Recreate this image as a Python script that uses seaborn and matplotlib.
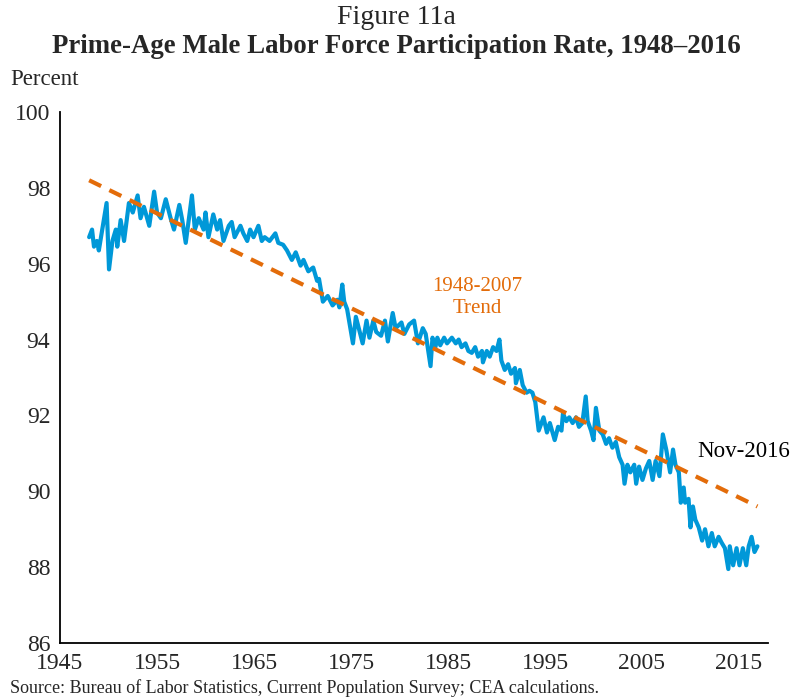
import matplotlib
matplotlib.use("Agg")
import matplotlib.pyplot as plt
import seaborn as sns
import pandas as pd

# prime-age male LFPR (decimal year, percent)
years = [1948.0, 1948.3, 1948.5, 1948.8, 1949.0, 1949.8, 1950.05, 1950.4, 1950.75, 1950.9,
         1951.25, 1951.6, 1952.1, 1952.5, 1953.0, 1953.3, 1953.65, 1954.2, 1954.7, 1955.0,
         1955.4, 1955.9, 1956.4, 1956.75, 1957.3, 1957.6, 1957.96, 1958.6, 1958.9, 1959.3,
         1959.8, 1960.0, 1960.3, 1960.8, 1961.2, 1961.5, 1961.85, 1962.4, 1962.7, 1963.0,
         1963.6, 1963.9, 1964.3, 1964.6, 1964.95, 1965.45, 1965.8, 1966.1, 1966.6, 1967.2,
         1967.5, 1968.0, 1968.4, 1968.9, 1969.3, 1969.8, 1970.1, 1970.6, 1971.1, 1971.5,
         1971.7, 1972.1, 1972.6, 1973.1, 1973.6, 1973.8, 1974.1, 1974.3, 1974.6, 1974.8,
         1975.2, 1975.5, 1975.9, 1976.2, 1976.6, 1976.9, 1977.3, 1977.6, 1978.1, 1978.5,
         1978.8, 1979.3, 1979.6, 1980.2, 1980.5, 1981.0, 1981.5, 1981.9, 1982.4, 1982.7,
         1983.2, 1983.4, 1983.7, 1983.9, 1984.2, 1984.6, 1984.9, 1985.4, 1985.8, 1986.1,
         1986.4, 1986.8, 1987.1, 1987.45, 1987.8, 1988.1, 1988.5, 1988.6, 1989.0, 1989.3,
         1989.65, 1990.0, 1990.3, 1990.5, 1990.85, 1991.2, 1991.5, 1991.9, 1992.0, 1992.4,
         1992.7, 1993.1, 1993.4, 1993.7, 1994.0, 1994.35, 1994.85, 1995.2, 1995.5, 1996.0,
         1996.35, 1996.7, 1996.85, 1997.2, 1997.5, 1997.85, 1998.2, 1998.5, 1998.85, 1999.2,
         1999.4, 1999.75, 2000.0, 2000.25, 2000.6, 2000.95, 2001.3, 2001.6, 2001.95, 2002.3,
         2002.65, 2003.0, 2003.2, 2003.5, 2003.8, 2004.2, 2004.4, 2004.7, 2005.05, 2005.4,
         2005.75, 2006.1, 2006.4, 2006.8, 2007.15, 2007.5, 2007.9, 2008.2, 2008.45, 2008.8,
         2009.0, 2009.3, 2009.45, 2009.8, 2010.0, 2010.25, 2010.5, 2010.85, 2011.2, 2011.5,
         2011.85, 2012.2, 2012.5, 2012.9, 2013.2, 2013.55, 2013.9, 2014.05, 2014.4, 2014.75,
         2015.05, 2015.4, 2015.75, 2016.0, 2016.3, 2016.6, 2016.9]
lfpr = [96.7, 96.9, 96.45, 96.6, 96.35, 97.6, 95.85, 96.6, 96.9, 96.45,
        97.15, 96.6, 97.6, 97.35, 97.8, 97.2, 97.5, 97.0, 97.9, 97.35,
        97.2, 97.7, 97.2, 96.9, 97.55, 97.15, 96.55, 97.8, 96.9, 97.2,
        96.9, 97.35, 96.7, 97.3, 96.9, 97.15, 96.6, 97.0, 97.1, 96.7,
        97.0, 96.8, 96.6, 96.9, 96.7, 97.0, 96.6, 96.7, 96.6, 96.8,
        96.55, 96.5, 96.35, 96.1, 96.3, 95.95, 96.1, 95.8, 95.9, 95.55,
        95.6, 95.0, 95.15, 94.9, 95.05, 94.85, 95.45, 95.0, 94.8, 94.5,
        93.9, 94.6, 94.2, 93.9, 94.5, 94.05, 94.5, 94.2, 94.1, 94.5,
        93.95, 94.7, 94.3, 94.45, 94.15, 94.4, 94.5, 93.9, 94.3, 94.15,
        93.3, 94.05, 93.8, 94.05, 93.85, 94.05, 93.9, 94.05, 93.9, 94.0,
        93.8, 93.9, 93.7, 93.65, 93.8, 93.55, 93.7, 93.4, 93.7, 93.55,
        93.8, 93.7, 94.0, 93.45, 93.2, 93.35, 93.1, 93.25, 92.85, 93.2,
        92.8, 92.6, 92.65, 92.6, 92.35, 91.6, 91.95, 91.55, 91.8, 91.35,
        91.7, 91.6, 92.05, 91.85, 91.95, 91.8, 91.95, 91.7, 91.8, 92.5,
        91.85, 91.6, 91.35, 92.2, 91.6, 91.5, 91.25, 91.4, 91.15, 91.3,
        90.9, 90.7, 90.2, 90.7, 90.5, 90.7, 90.2, 90.65, 90.3, 90.6,
        90.8, 90.3, 90.8, 90.4, 91.5, 91.1, 90.5, 91.1, 90.7, 90.5,
        89.7, 90.1, 89.7, 89.8, 89.05, 89.6, 89.25, 89.05, 88.7, 89.0,
        88.55, 88.9, 88.55, 88.8, 88.65, 88.5, 87.95, 88.55, 88.05, 88.5,
        88.05, 88.5, 88.05, 88.55, 88.8, 88.4, 88.55]

# 1948-2007 linear trend, extended to Nov-2016
trend_years = [1948.0, 2016.9]
trend_vals = [98.2, 89.6]

xticks = [1945, 1955, 1965, 1975, 1985, 1995, 2005, 2015]
yticks = [86, 88, 90, 92, 94, 96, 98, 100]

blue = "#0098D8"
orange = "#E36C0A"

sns.set_style("white")
plt.rcParams["font.family"] = ["Liberation Serif", "DejaVu Serif"]

df = pd.DataFrame({"year": years, "lfpr": lfpr})
tr = pd.DataFrame({"year": trend_years, "lfpr": trend_vals})

fig = plt.figure(figsize=(7.92, 7.0), dpi=100)
ax = fig.add_axes([0.0758, 0.0814, 0.894, 0.7586])

sns.lineplot(data=df, x="year", y="lfpr", ax=ax, color=blue, linewidth=3.0, sort=False)
sns.lineplot(data=tr, x="year", y="lfpr", ax=ax, color=orange, linewidth=3.0,
             dashes=False, linestyle=(0, (3.2, 2.2)))

ax.set_xlim(1945, 2018)
ax.set_ylim(86, 100)
ax.set_xticks(xticks)
ax.set_yticks(yticks)
ax.set_xlabel("")
ax.set_ylabel("")
ax.tick_params(axis="both", labelsize=17, direction="out", length=5, width=1.2,
               color="black", pad=2)
for s in ["top", "right"]:
    ax.spines[s].set_visible(False)
for s in ["left", "bottom"]:
    ax.spines[s].set_color("black")
    ax.spines[s].set_linewidth(1.3)

ax.text(1988.0, 95.1, "1948-2007\nTrend", color=orange, fontsize=15,
        ha="center", va="center", linespacing=1.2)
ax.text(2010.7, 91.04, "Nov-2016", color="black", fontsize=16.5, ha="left", va="center")

fig.text(0.5, 0.975, "Figure 11a", ha="center", va="center", fontsize=20)
fig.text(0.5, 0.934, "Prime-Age Male Labor Force Participation Rate, 1948\u20132016",
         ha="center", va="center", fontsize=19.3, fontweight="bold")
fig.text(0.013, 0.886, "Percent", ha="left", va="center", fontsize=16.5)
fig.text(0.013, 0.017, "Source: Bureau of Labor Statistics, Current Population Survey; CEA calculations.",
         ha="left", va="center", fontsize=13)

fig.savefig("out.png", dpi=100)
